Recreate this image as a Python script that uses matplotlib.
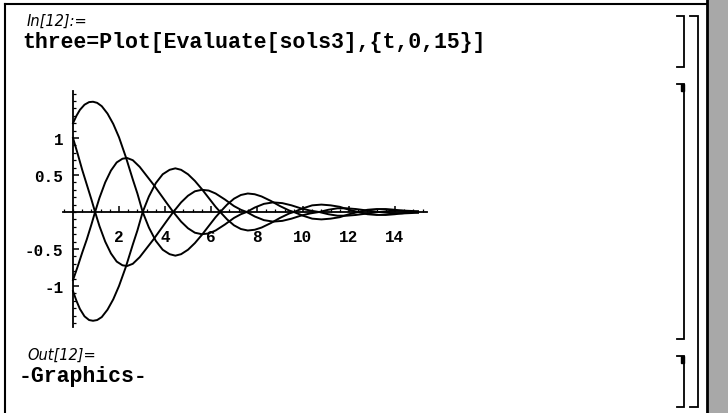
import matplotlib.pyplot as plt
from matplotlib.ticker import MultipleLocator, FixedLocator
from matplotlib.patches import Rectangle

plt.rcParams['axes.unicode_minus'] = False

# curve values (two shared time grids)
t_ac = [0, 0.15, 0.3, 0.5, 0.7, 0.87, 1.05, 1.25, 1.5, 1.75, 2.0, 2.3, 2.6, 2.8,
        3.03, 3.3, 3.6, 3.9, 4.2, 4.45, 4.7, 5.0, 5.3, 5.6, 5.9, 6.2, 6.4, 6.7,
        7.0, 7.3, 7.6, 7.9, 8.2, 8.6, 9.0, 9.4, 9.6, 10.0, 10.4, 10.8, 11.2,
        11.6, 12.0, 12.4, 12.8, 13.2, 13.6, 14.0, 14.5, 15.0]
a_vals = [1.2, 1.3, 1.38, 1.45, 1.485, 1.49, 1.475, 1.43, 1.33, 1.19, 1.01, 0.74,
          0.44, 0.25, 0.0, -0.21, -0.39, -0.51, -0.57, -0.59, -0.57, -0.51, -0.42,
          -0.31, -0.19, -0.07, 0.0, 0.1, 0.18, 0.23, 0.25, 0.24, 0.21, 0.15, 0.08,
          0.02, 0.0, -0.05, -0.09, -0.1, -0.09, -0.07, -0.03, 0.0, 0.03, 0.04,
          0.04, 0.03, 0.01, -0.005]
c_vals = [-1.07, -1.2, -1.31, -1.41, -1.46, -1.47, -1.46, -1.42, -1.32, -1.18, -1.0,
          -0.74, -0.44, -0.25, 0.0, 0.21, 0.39, 0.51, 0.57, 0.59, 0.57, 0.51, 0.42,
          0.31, 0.19, 0.07, 0.0, -0.1, -0.18, -0.23, -0.25, -0.24, -0.21, -0.15,
          -0.08, -0.02, 0.0, 0.05, 0.09, 0.1, 0.09, 0.07, 0.03, 0.0, -0.03, -0.04,
          -0.04, -0.03, -0.01, 0.005]

t_bd = [0, 0.2, 0.4, 0.6, 0.8, 0.96, 1.15, 1.4, 1.65, 1.9, 2.15, 2.35, 2.6, 2.9,
        3.2, 3.5, 3.8, 4.1, 4.36, 4.7, 5.0, 5.3, 5.6, 5.9, 6.2, 6.6, 7.0, 7.3,
        7.55, 7.9, 8.3, 8.7, 9.1, 9.5, 9.9, 10.3, 10.7, 11.1, 11.5, 11.9, 12.3,
        12.8, 13.3, 13.8, 14.3, 15.0]
b_vals = [1.0, 0.79, 0.57, 0.37, 0.17, 0.0, -0.19, -0.4, -0.56, -0.67, -0.72,
          -0.73, -0.7, -0.61, -0.49, -0.37, -0.24, -0.11, 0.0, 0.13, 0.22, 0.28,
          0.3, 0.29, 0.25, 0.17, 0.08, 0.03, 0.0, -0.06, -0.11, -0.13, -0.12,
          -0.09, -0.05, -0.02, 0.0, 0.03, 0.05, 0.05, 0.04, 0.02, 0.0, -0.015,
          -0.02, -0.01]
d_vals = [-0.92, -0.74, -0.55, -0.37, -0.17, 0.0, 0.19, 0.4, 0.56, 0.67, 0.72,
          0.73, 0.7, 0.61, 0.49, 0.37, 0.24, 0.11, 0.0, -0.13, -0.22, -0.28,
          -0.3, -0.29, -0.25, -0.17, -0.08, -0.03, 0.0, 0.06, 0.11, 0.13, 0.12,
          0.09, 0.05, 0.02, 0.0, -0.03, -0.05, -0.05, -0.04, -0.02, 0.0, 0.015,
          0.02, 0.01]

x_ticks = [2, 4, 6, 8, 10, 12, 14]
y_ticks = [-1, -0.5, 0.5, 1]
y_tick_labels = ['-1', '-0.5', '0.5', '1']

W, H = 728, 414
fig = plt.figure(figsize=(W / 100, H / 100), dpi=100)
fig.patch.set_facecolor('white')

# notebook window drawn in pixel coordinates
bg = fig.add_axes([0, 0, 1, 1])
bg.set_xlim(0, W)
bg.set_ylim(H, 0)
bg.axis('off')

bg.plot([5, 707], [5, 5], color='black', lw=1.5)
bg.plot([5, 5], [5, H], color='black', lw=1.5)
bg.add_patch(Rectangle((707, 0), 21, H, facecolor='#a8a8a8', edgecolor='none'))
bg.plot([707, 707], [0, H], color='black', lw=2)


def bracket(x0, x1, y0, y1, stub=False):
    bg.plot([x0, x1, x1, x0], [y0, y0, y1, y1], color='black', lw=1.3,
            solid_joinstyle='miter')
    if stub:
        bg.add_patch(Rectangle((x1 - 3, y0), 3, 7, color='black'))


bracket(677, 684, 17, 68)
bracket(677, 684, 85, 340, stub=True)
bracket(677, 684, 357, 408, stub=True)
bracket(690, 698, 17, 408)

mono = dict(family='Liberation Mono', fontweight='bold', fontsize=15.5)
label = dict(family='DejaVu Sans', style='italic', fontsize=10.5)
bg.text(27, 21, 'In[12]:=', va='center', ha='left', **label)
bg.text(22, 42.5, 'three=Plot[Evaluate[sols3],{t,0,15}]', va='center', ha='left', **mono)
bg.text(27, 355, 'Out[12]=', va='center', ha='left', **label)
bg.text(19, 376.5, '-Graphics-', va='center', ha='left', **mono)

# plot panel: t -> 73 + 23 t px, v -> 213 - 74 v px
xlo, xhi = -0.43, 15.4
ylo, yhi = -1.55, 1.64
left = (73 + 23 * xlo) / W
right = (73 + 23 * xhi) / W
top = (213 - 74 * yhi) / H
bottom = (213 - 74 * ylo) / H
ax = fig.add_axes([left, 1 - bottom, right - left, bottom - top])
ax.set_facecolor('none')
ax.set_xlim(xlo, xhi)
ax.set_ylim(ylo, yhi)

for vals, tt in [(a_vals, t_ac), (c_vals, t_ac), (b_vals, t_bd), (d_vals, t_bd)]:
    ax.plot(tt, vals, color='black', lw=1.4)

ax.spines['left'].set_position(('data', 0))
ax.spines['bottom'].set_position(('data', 0))
ax.spines['top'].set_visible(False)
ax.spines['right'].set_visible(False)
for s in ('left', 'bottom'):
    ax.spines[s].set_linewidth(1.3)

ax.xaxis.set_major_locator(FixedLocator(x_ticks))
ax.xaxis.set_minor_locator(MultipleLocator(0.4))
ax.yaxis.set_major_locator(FixedLocator(y_ticks))
ax.set_yticklabels(y_tick_labels)
ax.yaxis.set_minor_locator(MultipleLocator(0.1))
ax.tick_params(which='both', direction='in', color='black')
ax.tick_params(which='major', length=4, width=1.1)
ax.tick_params(which='minor', length=2, width=0.9)
ax.tick_params(axis='x', pad=12)
ax.tick_params(axis='y', pad=7)
for lab in ax.get_xticklabels() + ax.get_yticklabels():
    lab.set_family('Liberation Mono')
    lab.set_fontweight('bold')
    lab.set_fontsize(11.5)

fig.savefig('out.png', dpi=100)
